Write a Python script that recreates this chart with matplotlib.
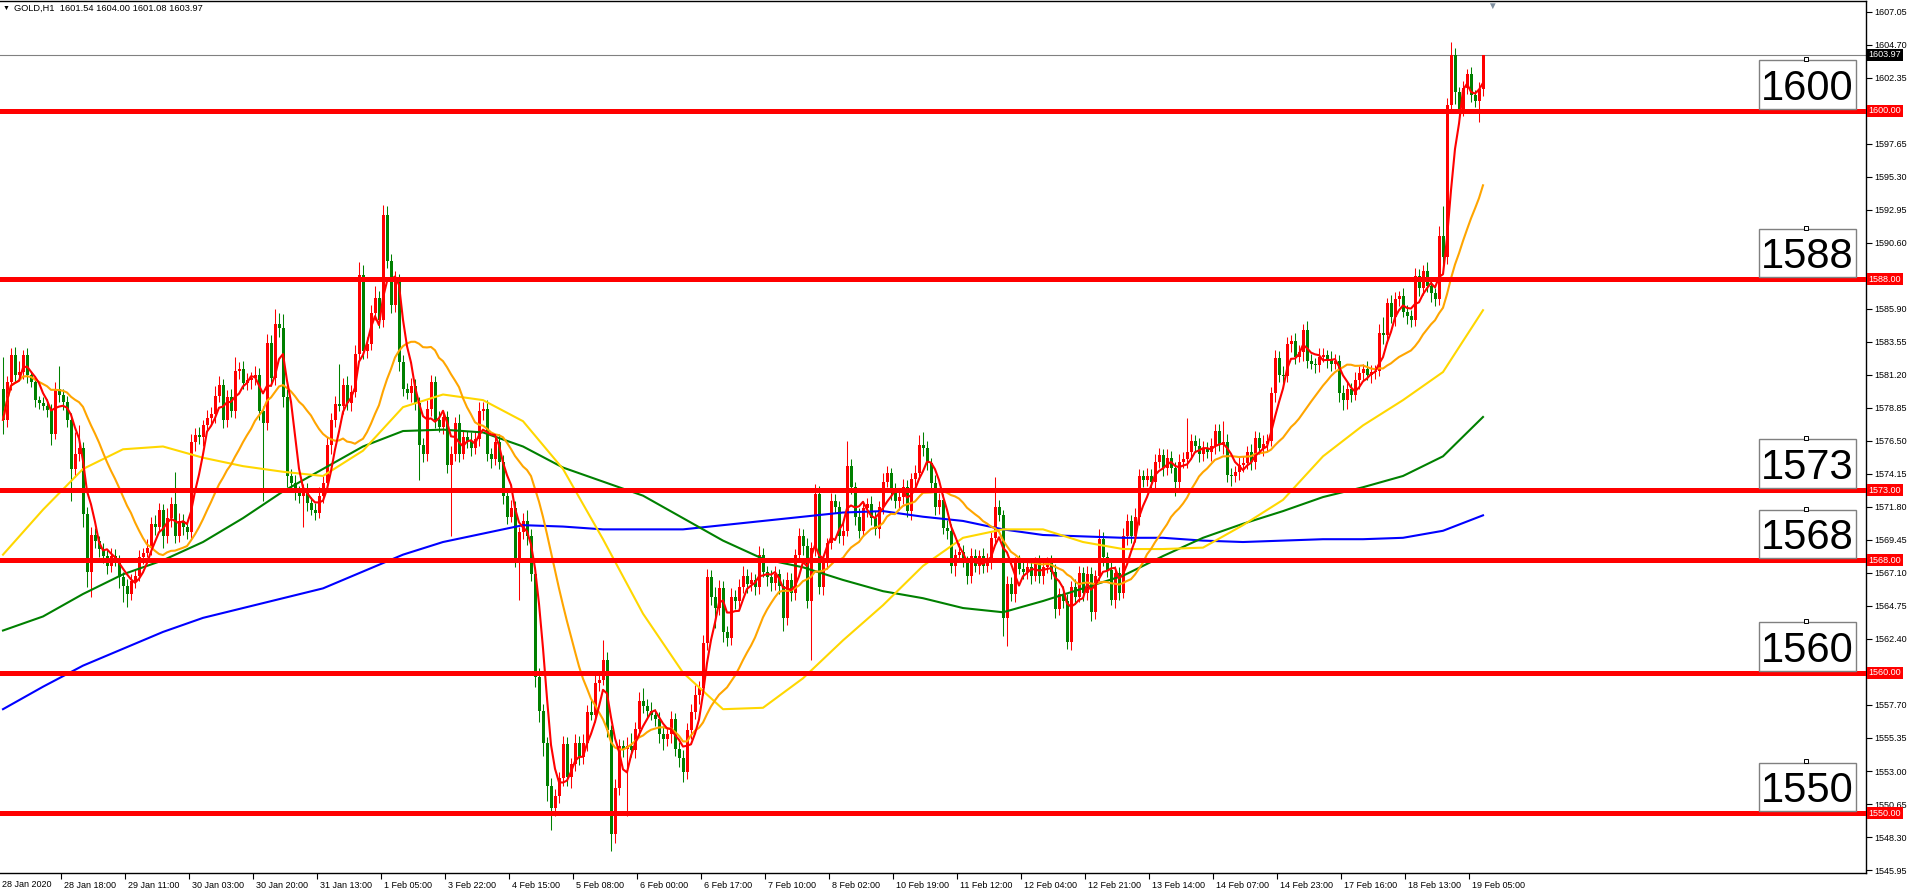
import numpy as np
import pandas as pd
import matplotlib
matplotlib.use("Agg")
import matplotlib.pyplot as plt
import matplotlib.transforms as mtransforms
from matplotlib.patches import Rectangle

plt.rcParams['font.family'] = ['Liberation Sans', 'DejaVu Sans']

W, H, DPI = 1913, 892, 100

header = "GOLD,H1  1601.54 1604.00 1601.08 1603.97"

# hourly closes, 16 bars per row (one row per time label)
first_open = 1580.2
closes = [
    1578.0, 1580.7, 1582.6, 1581.2, 1581.4, 1582.6, 1581.2, 1580.7, 1579.4, 1579.2, 1579.0, 1578.7, 1577.0, 1580.2, 1579.8, 1579.3,
    1578.0, 1574.5, 1575.6, 1576.0, 1571.3, 1567.2, 1569.8, 1569.4, 1568.8, 1568.3, 1567.6, 1568.3, 1568.1, 1566.8, 1566.2, 1565.6,
    1566.5, 1566.9, 1568.2, 1568.5, 1568.9, 1570.6, 1570.4, 1571.6, 1569.7, 1571.0, 1572.0, 1569.7, 1570.8, 1570.4, 1570.0, 1576.4,
    1576.9, 1576.8, 1577.6, 1578.1, 1578.4, 1579.7, 1580.5, 1578.0, 1579.6, 1578.6, 1581.5, 1581.6, 1580.6, 1580.8, 1581.0, 1581.2,
    1578.6, 1577.8, 1583.5, 1581.0, 1584.8, 1584.5, 1579.6, 1574.0, 1573.5, 1572.9, 1572.6, 1572.9, 1572.1, 1571.6, 1571.4, 1572.6,
    1573.5, 1576.2, 1578.0, 1579.1, 1579.0, 1580.5, 1579.2, 1580.0, 1582.7, 1588.3, 1582.9, 1583.4, 1585.6, 1586.7, 1585.1, 1592.6,
    1589.3, 1586.2, 1587.8, 1582.1, 1580.2, 1579.9, 1580.4, 1579.2, 1576.2, 1575.6, 1578.8, 1580.7, 1578.0, 1577.5, 1578.2, 1574.8,
    1575.6, 1577.8, 1575.6, 1576.8, 1576.5, 1576.0, 1576.6, 1578.6, 1578.8, 1575.6, 1575.2, 1576.4, 1575.0, 1572.6, 1571.1, 1571.7,
    1568.1, 1570.0, 1570.8, 1569.7, 1567.0, 1559.7, 1557.3, 1555.0, 1551.9, 1550.4, 1551.2, 1552.5, 1554.9, 1552.6, 1553.5, 1555.0,
    1554.0, 1555.0, 1557.2, 1557.0, 1559.3, 1559.5, 1560.9, 1555.9, 1548.5, 1551.8, 1554.8, 1554.6, 1554.8, 1554.5, 1556.0, 1558.0,
    1557.6, 1557.3, 1557.0, 1556.7, 1555.6, 1555.3, 1555.6, 1556.7, 1554.6, 1553.9, 1552.9, 1555.9, 1557.2, 1558.4, 1558.9, 1562.1,
    1566.8, 1565.4, 1564.6, 1566.0, 1562.9, 1562.5, 1565.4, 1565.1, 1566.1, 1566.9, 1566.3, 1566.6, 1566.1, 1568.4, 1567.2, 1566.8,
    1566.4, 1567.0, 1566.2, 1563.9, 1566.6, 1565.7, 1568.4, 1569.7, 1569.0, 1565.1, 1568.9, 1572.7, 1566.1, 1567.9, 1569.2, 1572.2,
    1571.8, 1569.7, 1570.1, 1574.7, 1573.2, 1571.1, 1570.1, 1571.7, 1572.0, 1571.0, 1570.2, 1571.8, 1573.6, 1574.2, 1572.9, 1572.2,
    1572.5, 1573.2, 1571.5, 1573.8, 1574.2, 1576.2, 1576.0, 1574.9, 1573.5, 1571.8, 1572.3, 1570.3, 1570.1, 1567.6, 1568.4, 1568.6,
    1567.9, 1566.9, 1568.3, 1567.6, 1568.3, 1567.6, 1568.0, 1569.6, 1571.8, 1571.2, 1563.9, 1566.3, 1565.6, 1567.8, 1567.4, 1567.2,
    1567.5, 1566.9, 1567.8, 1566.9, 1567.5, 1567.8, 1567.2, 1564.5, 1565.6, 1565.1, 1562.2, 1566.1, 1565.4, 1567.1, 1565.7, 1567.0,
    1564.3, 1566.9, 1569.5, 1568.2, 1567.3, 1565.2, 1567.1, 1565.7, 1569.7, 1570.8, 1569.7, 1571.1, 1574.0, 1573.7, 1574.0, 1573.6,
    1575.0, 1575.5, 1574.6, 1575.3, 1574.6, 1573.6, 1575.0, 1575.2, 1575.7, 1576.5, 1576.1, 1575.6, 1576.0, 1575.7, 1576.1, 1577.2,
    1576.2, 1576.4, 1574.1, 1574.0, 1574.3, 1574.8, 1574.9, 1575.7, 1575.0, 1576.7, 1576.0, 1576.3, 1576.5, 1579.9, 1582.4, 1581.2,
    1581.1, 1583.4, 1583.6, 1582.5, 1582.8, 1584.4, 1582.2, 1582.0, 1581.9, 1582.5, 1582.6, 1582.3, 1582.0, 1582.2, 1579.9, 1579.4,
    1580.2, 1579.8, 1580.8, 1581.3, 1581.6, 1581.2, 1581.4, 1581.5, 1584.2, 1584.0, 1586.3, 1585.3, 1586.6, 1586.8, 1585.7, 1585.4,
    1585.1, 1588.2, 1587.4, 1588.6, 1587.5, 1587.0, 1586.6, 1591.1, 1589.6, 1600.4, 1604.0, 1601.3, 1600.1, 1601.6, 1602.6, 1601.1,
    1600.7, 1601.54, 1603.97,
]

# wick length above / below the body of each bar
up_wick = [
    2.3, 0.4, 0.5, 0.6, 0.8, 0.4, 0.5, 0.3, 0.4, 0.3, 0.4, 0.5, 0.4, 0.5, 1.6, 0.4,
    0.4, 0.5, 1.5, 1.6, 0.4, 0.5, 0.6, 0.5, 0.3, 0.4, 0.4, 0.6, 0.5, 0.3, 0.4, 0.5,
    0.5, 0.4, 0.5, 0.4, 0.6, 0.5, 0.6, 0.5, 0.4, 0.7, 0.5, 2.3, 0.6, 0.5, 0.4, 0.6,
    0.5, 0.6, 0.4, 0.6, 0.5, 0.7, 0.6, 0.4, 0.5, 0.6, 1.0, 0.5, 0.6, 0.5, 0.4, 0.6,
    0.5, 0.4, 0.6, 0.5, 1.1, 0.8, 1.0, 0.6, 0.5, 0.6, 0.4, 0.5, 0.6, 0.4, 0.5, 0.6,
    0.5, 0.6, 0.5, 0.6, 2.9, 0.5, 0.6, 0.5, 0.6, 0.9, 0.7, 0.5, 0.6, 0.8, 0.5, 0.7,
    0.6, 0.5, 0.8, 0.6, 0.5, 0.4, 0.6, 0.5, 0.4, 0.5, 0.6, 0.5, 0.4, 0.6, 0.5, 0.4,
    0.5, 0.4, 0.6, 0.5, 0.4, 0.6, 0.5, 0.7, 0.5, 0.6, 0.4, 0.5, 0.6, 0.5, 0.4, 0.6,
    0.5, 0.4, 0.6, 0.8, 0.5, 0.4, 0.6, 0.5, 0.4, 0.6, 0.5, 0.4, 0.6, 0.5, 0.4, 0.6,
    0.5, 0.6, 0.5, 0.9, 0.6, 0.5, 1.4, 0.6, 0.4, 0.6, 0.5, 0.4, 0.6, 0.9, 0.5, 0.6,
    0.9, 0.5, 0.6, 0.4, 0.5, 0.6, 0.5, 0.6, 0.4, 0.5, 0.6, 0.5, 0.6, 0.7, 0.5, 0.6,
    0.6, 0.5, 0.7, 0.6, 0.5, 0.4, 0.6, 0.5, 0.6, 0.7, 0.5, 0.6, 0.4, 0.6, 0.5, 0.4,
    0.5, 0.6, 0.4, 0.5, 0.6, 0.5, 0.4, 0.6, 0.5, 0.6, 0.4, 0.7, 0.6, 0.5, 0.4, 0.6,
    0.5, 0.4, 0.6, 1.8, 0.5, 0.4, 0.6, 0.5, 0.4, 0.6, 0.5, 0.4, 0.6, 0.5, 0.4, 0.6,
    0.4, 0.6, 0.5, 0.4, 0.6, 0.7, 0.9, 0.5, 0.4, 0.6, 0.5, 0.4, 0.6, 0.5, 0.4, 0.6,
    0.5, 0.4, 0.6, 0.5, 0.4, 0.6, 0.5, 0.4, 2.1, 0.5, 0.4, 0.6, 0.5, 0.4, 0.6, 0.5,
    0.6, 0.5, 0.4, 0.6, 0.5, 0.4, 0.6, 0.5, 0.4, 0.6, 0.5, 0.4, 0.6, 0.5, 0.4, 0.6,
    0.5, 0.4, 0.7, 0.5, 0.4, 0.6, 0.5, 0.4, 0.6, 0.5, 0.4, 0.6, 0.5, 0.4, 0.6, 0.5,
    0.6, 0.5, 0.4, 0.6, 0.5, 0.4, 0.6, 0.5, 2.4, 0.5, 0.4, 0.6, 0.5, 0.4, 0.6, 0.5,
    0.5, 1.5, 0.6, 0.5, 0.4, 0.6, 0.5, 0.4, 0.6, 0.5, 0.4, 0.6, 0.5, 0.4, 0.6, 0.5,
    0.6, 0.5, 0.4, 0.6, 0.5, 0.4, 0.6, 0.5, 0.4, 0.6, 0.5, 0.4, 0.6, 0.5, 0.4, 0.6,
    0.5, 0.4, 0.6, 0.5, 0.4, 0.6, 0.5, 0.4, 0.6, 1.1, 0.4, 0.6, 0.5, 0.4, 0.6, 0.5,
    0.4, 0.6, 0.5, 0.4, 0.6, 0.5, 0.4, 0.7, 2.1, 0.5, 0.9, 0.5, 0.4, 0.5, 0.4, 0.5,
    0.4, 0.5, 0.03,
]
dn_wick = [
    1.0, 0.5, 0.6, 0.5, 0.4, 0.5, 0.6, 0.4, 0.5, 0.4, 0.3, 0.5, 0.8, 0.4, 0.5, 0.6,
    0.5, 2.3, 0.6, 0.5, 0.9, 1.1, 1.8, 0.5, 0.6, 0.5, 0.6, 0.4, 0.5, 0.8, 1.2, 0.9,
    0.4, 0.5, 0.4, 0.5, 0.3, 0.5, 0.6, 0.4, 0.8, 0.5, 0.6, 0.5, 0.4, 0.6, 0.5, 0.4,
    0.6, 0.5, 0.7, 0.4, 0.5, 0.6, 0.4, 0.6, 0.5, 0.4, 0.5, 0.6, 0.4, 0.5, 0.6, 0.5,
    0.6, 5.6, 0.5, 0.6, 0.5, 0.6, 0.7, 0.8, 0.5, 0.6, 0.5, 2.2, 0.6, 0.4, 0.5, 0.4,
    0.5, 0.4, 0.6, 0.5, 0.4, 0.6, 0.5, 0.6, 0.4, 0.5, 0.6, 0.5, 0.4, 0.5, 0.6, 0.5,
    0.5, 0.6, 0.5, 0.6, 0.5, 0.4, 0.6, 0.5, 2.5, 0.6, 0.5, 0.5, 0.6, 0.4, 0.5, 0.6,
    5.1, 0.5, 0.6, 0.4, 0.5, 0.6, 0.4, 0.5, 0.6, 0.5, 0.6, 0.4, 0.5, 0.6, 0.5, 0.4,
    0.6, 2.9, 0.5, 0.6, 0.5, 0.7, 0.8, 0.9, 1.0, 1.6, 0.6, 0.5, 0.6, 0.7, 0.8, 0.5,
    0.6, 0.5, 0.6, 0.4, 0.5, 0.6, 0.4, 0.5, 1.2, 0.6, 0.5, 0.6, 4.8, 0.5, 0.6, 0.5,
    0.5, 0.6, 0.4, 0.5, 0.6, 0.8, 0.5, 0.6, 0.5, 0.6, 0.7, 0.5, 0.6, 0.5, 0.6, 0.5,
    0.5, 0.6, 1.4, 0.5, 0.7, 0.6, 0.5, 0.6, 0.5, 0.4, 0.6, 0.5, 0.6, 0.5, 0.4, 0.6,
    0.6, 0.5, 0.6, 0.9, 0.5, 0.6, 0.5, 0.4, 0.6, 0.5, 4.2, 0.6, 0.5, 0.6, 0.5, 0.4,
    0.4, 0.5, 0.6, 0.4, 0.5, 0.6, 0.5, 0.4, 0.6, 0.5, 0.4, 0.6, 0.5, 0.4, 0.6, 0.5,
    0.6, 0.5, 0.4, 0.6, 0.5, 0.4, 0.6, 0.5, 0.4, 0.6, 0.5, 0.4, 0.6, 0.5, 0.7, 0.5,
    0.4, 0.6, 0.5, 0.4, 0.6, 0.5, 0.4, 0.6, 0.5, 0.4, 1.3, 2.0, 0.5, 0.6, 0.4, 0.5,
    0.5, 0.6, 0.4, 0.5, 0.6, 0.4, 0.5, 0.6, 0.4, 0.5, 0.5, 0.6, 0.5, 0.4, 0.6, 0.5,
    0.6, 0.5, 0.4, 0.6, 0.5, 0.4, 0.6, 0.5, 0.4, 0.6, 0.5, 0.4, 0.6, 0.5, 0.4, 0.6,
    0.5, 0.4, 0.6, 0.5, 0.4, 1.0, 0.5, 0.4, 0.6, 0.5, 0.4, 0.6, 0.5, 0.4, 0.6, 0.5,
    0.4, 0.6, 0.5, 0.7, 0.4, 0.6, 0.5, 0.4, 0.6, 0.5, 0.4, 0.6, 0.5, 0.4, 0.6, 0.5,
    0.5, 0.4, 0.6, 0.5, 0.4, 0.6, 0.5, 0.4, 0.6, 0.5, 0.4, 0.6, 0.5, 0.4, 0.6, 0.7,
    0.6, 0.5, 0.4, 0.6, 0.5, 0.4, 0.6, 0.5, 0.4, 0.6, 0.5, 0.4, 0.6, 0.5, 0.4, 0.6,
    0.5, 0.4, 0.6, 0.5, 0.4, 0.6, 0.5, 0.4, 0.6, 0.5, 0.4, 0.8, 0.6, 0.5, 0.4, 0.5,
    0.4, 1.5, 0.46,
]

# slow moving averages, read every 10 bars
ma_bars = list(range(0, 371, 10))
ma_yellow = [1568.4, 1571.6, 1574.5, 1575.9, 1576.1, 1575.3, 1574.7, 1574.3, 1574.0, 1575.8,
             1578.9, 1579.8, 1579.4, 1577.9, 1574.5, 1569.5, 1564.2, 1560.0, 1557.4, 1557.5,
             1559.6, 1562.3, 1564.8, 1567.6, 1569.6, 1570.2, 1570.2, 1569.3, 1568.8, 1568.8,
             1568.9, 1570.5, 1572.3, 1575.4, 1577.6, 1579.4, 1581.4, 1585.8]
ma_green = [1563.0, 1564.0, 1565.6, 1567.0, 1568.0, 1569.3, 1571.0, 1572.9, 1574.5, 1576.1,
            1577.2, 1577.3, 1577.1, 1576.1, 1574.6, 1573.6, 1572.6, 1571.0, 1569.4, 1568.1,
            1567.5, 1566.6, 1565.8, 1565.3, 1564.6, 1564.3, 1565.1, 1566.0, 1566.9, 1568.3,
            1569.6, 1570.6, 1571.5, 1572.5, 1573.2, 1574.0, 1575.4, 1578.2]
ma_blue = [1557.4, 1559.0, 1560.5, 1561.7, 1562.9, 1563.9, 1564.6, 1565.3, 1566.0, 1567.2,
           1568.4, 1569.3, 1569.9, 1570.5, 1570.4, 1570.2, 1570.2, 1570.2, 1570.5, 1570.8,
           1571.1, 1571.4, 1571.5, 1571.1, 1570.8, 1570.2, 1569.8, 1569.7, 1569.6, 1569.6,
           1569.4, 1569.3, 1569.4, 1569.5, 1569.5, 1569.6, 1570.1, 1571.2]

levels = [1600, 1588, 1573, 1568, 1560, 1550]
last_price = 1603.97

price_ticks = [1607.05, 1604.70, 1602.35, 1600.00, 1597.65, 1595.30, 1592.95, 1590.60,
               1588.25, 1585.90, 1583.55, 1581.20, 1578.85, 1576.50, 1574.15, 1571.80,
               1569.45, 1567.10, 1564.75, 1562.40, 1560.05, 1557.70, 1555.35, 1553.00,
               1550.65, 1548.30, 1545.95]

first_label = "28 Jan 2020"
tick_bars = [15, 31, 47, 63, 79, 95, 111, 127, 143, 159, 175, 191, 207, 223, 239, 255,
             271, 287, 303, 319, 335, 351, 367]
tick_labels = ["28 Jan 18:00", "29 Jan 11:00", "30 Jan 03:00", "30 Jan 20:00", "31 Jan 13:00",
               "1 Feb 05:00", "3 Feb 22:00", "4 Feb 15:00", "5 Feb 08:00", "6 Feb 00:00",
               "6 Feb 17:00", "7 Feb 10:00", "8 Feb 02:00", "10 Feb 19:00", "11 Feb 12:00",
               "12 Feb 04:00", "12 Feb 21:00", "13 Feb 14:00", "14 Feb 07:00", "14 Feb 23:00",
               "17 Feb 16:00", "18 Feb 13:00", "19 Feb 05:00"]

# ---- derived series
c = np.array(closes)
o = np.concatenate([[first_open], c[:-1]])
hi = np.maximum(o, c) + np.array(up_wick)
lo = np.minimum(o, c) - np.array(dn_wick)
idx = np.arange(len(c))
ma_red = pd.Series(c).rolling(5, min_periods=1).mean()
ma_orange = pd.Series(c).rolling(20, min_periods=1).mean()

fig = plt.figure(figsize=(W / DPI, H / DPI), dpi=DPI)
ax = fig.add_axes([0, 1 - 873 / H, 1866 / W, 872 / H])
ax.set_xlim(-0.75, 465.75)
ax.set_ylim(1545.74, 1607.81)

# candles: up bars red, down bars green
col = np.where(c >= o, '#FF0000', '#008000')
ax.vlines(idx, lo, hi, colors=col, linewidth=0.75, zorder=2)
ax.bar(idx, np.maximum(np.abs(c - o), 0.07), bottom=np.minimum(o, c), width=0.75,
       color=col, linewidth=0, zorder=2.1)

ax.axhline(last_price, color='#808080', lw=0.8, zorder=1)

ax.plot(ma_bars, ma_blue, color='#0000FF', lw=1.5, zorder=3)
ax.plot(ma_bars, ma_green, color='#008000', lw=1.5, zorder=3)
ax.plot(ma_bars, ma_yellow, color='#FFD700', lw=1.5, zorder=3)
ax.plot(idx, ma_orange, color='#FFA500', lw=1.5, zorder=3)
ax.plot(idx, ma_red, color='#FF0000', lw=1.5, zorder=3.1)

for lv in levels:
    ax.axhline(lv, color='#FF0000', lw=3.6, zorder=4)
    ax.add_patch(Rectangle((439.0, lv + 0.15), 24.25, 3.45, facecolor='white',
                           edgecolor='#808080', lw=1.0, zorder=5))
    ax.text(451.1, lv + 0.78, f"{lv}", fontsize=30, ha='center', va='baseline',
            color='black', zorder=6)
    ax.plot(450.75, lv + 3.68, marker='s', ms=2.5, mfc='white', mec='black', mew=0.7,
            zorder=6)

# price axis on the right; labels under the level tags are hidden, as in the terminal
ax.yaxis.tick_right()
ax.set_yticks(price_ticks)
ax.set_yticklabels(["" if min(abs(p - lv) for lv in levels) < 0.4 else f"{p:.2f}"
                    for p in price_ticks])
ax.tick_params(axis='y', direction='out', length=4, width=0.8, pad=2, labelsize=6.5,
               colors='black')
ytr = ax.get_yaxis_transform()
for lv in levels:
    ax.text(1.0015, lv, f"{lv:.2f}", transform=ytr, fontsize=6.5, color='white',
            ha='left', va='center', clip_on=False, zorder=10,
            bbox=dict(boxstyle='square,pad=0.18', facecolor='#FF0000', edgecolor='none'))
ax.text(1.0015, last_price, f"{last_price:.2f}", transform=ytr, fontsize=6.5,
        color='white', ha='left', va='center', clip_on=False, zorder=10,
        bbox=dict(boxstyle='square,pad=0.18', facecolor='black', edgecolor='none'))

# time axis
ax.set_xticks([b - 0.5 for b in tick_bars])
ax.set_xticklabels(tick_labels)
ax.tick_params(axis='x', direction='out', length=4, width=0.8, pad=2, labelsize=6.5,
               colors='black')
shift = mtransforms.ScaledTranslation(3 / DPI, 0, fig.dpi_scale_trans)
for lbl in ax.get_xticklabels():
    lbl.set_horizontalalignment('left')
    lbl.set_transform(lbl.get_transform() + shift)
ax.text(0.001, -0.0075, first_label, transform=ax.transAxes, fontsize=6.5,
        ha='left', va='top', clip_on=False)

for side in ['top', 'bottom', 'right']:
    ax.spines[side].set_color('black')
    ax.spines[side].set_linewidth(1.0)
ax.spines['left'].set_visible(False)

fig.text(3 / W, 1 - 8 / H, "\u25BC", fontsize=5, va='center', ha='left')
fig.text(14 / W, 1 - 8 / H, header, fontsize=6.7, va='center', ha='left')
fig.text(1492 / W, 1 - 6 / H, "\u25BC", fontsize=7, color='#8090A0', va='center',
         ha='center')

fig.savefig("out.png", dpi=DPI)
